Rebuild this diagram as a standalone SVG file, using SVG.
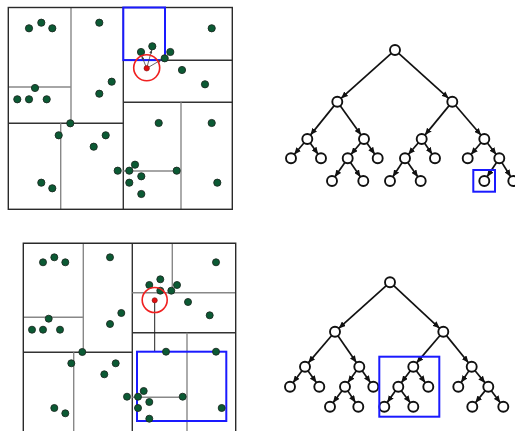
<svg xmlns="http://www.w3.org/2000/svg" width="515" height="431" viewBox="0 0 515 431">
  <style>
    .frame { fill: none; stroke: #2a2a2a; stroke-width: 1.4; }
    .split { stroke: #333; stroke-width: 1.4; fill: none; }
    .split2 { stroke: #888; stroke-width: 1.4; fill: none; }
    .pt { fill: #0b5a34; stroke: #1c2b22; stroke-width: 0.9; }
    .query { fill: #e01010; stroke: #801010; stroke-width: 0.6; }
    .ring { fill: none; stroke: #f02020; stroke-width: 1.6; }
    .sel { fill: none; stroke: #1a1aff; stroke-width: 2; }
    .node { fill: #fff; stroke: #111; stroke-width: 1.9; }
    .edge { stroke: #111; stroke-width: 1.7; fill: none; marker-end: url(#tip); }
    .probe { stroke: #444; stroke-width: 0.8; fill: none; marker-end: url(#tipSmall); }
  </style>
  <defs>
    <marker id="tip" markerUnits="userSpaceOnUse" markerWidth="7" markerHeight="6" refX="7" refY="3" orient="auto">
      <path d="M0,0 L7,3 L0,6 z" fill="#111"/>
    </marker>
    <marker id="tipSmall" markerUnits="userSpaceOnUse" markerWidth="4" markerHeight="3" refX="4" refY="1.5" orient="auto">
      <path d="M0,0 L4,1.5 L0,3 z" fill="#444"/>
    </marker>
  </defs>
  <rect width="515" height="431" fill="#fff"/>

  <!-- upper partition panel -->
  <g id="panel-top">
    <g id="top-splits">
      <line class="split" x1="123.3" y1="7.5" x2="123.3" y2="209.3"/>
      <line class="split" x1="8.3" y1="123.3" x2="123.3" y2="123.3"/>
      <line class="split" x1="123.3" y1="102.3" x2="232.3" y2="102.3"/>
      <line class="split2" x1="71" y1="7.5" x2="71" y2="123.3"/>
      <line class="split" x1="123.3" y1="60.3" x2="232.3" y2="60.3"/>
      <line class="split2" x1="8.3" y1="87" x2="71" y2="87"/>
      <line class="split2" x1="60.7" y1="123.3" x2="60.7" y2="209.3"/>
      <line class="split2" x1="181" y1="102.3" x2="181" y2="209.3"/>
      <line class="split2" x1="123.3" y1="171" x2="176.7" y2="171"/>
      <rect class="frame" x="8.3" y="7.5" width="224" height="201.8"/>
    </g>
    <rect id="top-cell" class="sel" x="123.3" y="7.5" width="41.7" height="52.6"/>
    <g id="top-probes">
      <line class="probe" x1="146.7" y1="68.3" x2="141.6" y2="55.6"/>
      <line class="probe" x1="146.7" y1="68.3" x2="151.8" y2="49.6"/>
      <line class="probe" x1="146.7" y1="68.3" x2="161.6" y2="59.6"/>
    </g>
    <g id="top-points">
      <circle class="pt" cx="29" cy="28.3" r="3.6"/>
      <circle class="pt" cx="41.3" cy="22.7" r="3.6"/>
      <circle class="pt" cx="52.3" cy="28.3" r="3.6"/>
      <circle class="pt" cx="99.3" cy="22.7" r="3.6"/>
      <circle class="pt" cx="211.7" cy="28.3" r="3.6"/>
      <circle class="pt" cx="141" cy="52" r="3.6"/>
      <circle class="pt" cx="152.3" cy="46.3" r="3.6"/>
      <circle class="pt" cx="170.3" cy="52" r="3.6"/>
      <circle class="pt" cx="164.7" cy="58.3" r="3.6"/>
      <circle class="pt" cx="182" cy="70" r="3.6"/>
      <circle class="pt" cx="205" cy="84.3" r="3.6"/>
      <circle class="pt" cx="111.7" cy="81.7" r="3.6"/>
      <circle class="pt" cx="99.3" cy="93.7" r="3.6"/>
      <circle class="pt" cx="35" cy="88" r="3.6"/>
      <circle class="pt" cx="17.3" cy="99.3" r="3.6"/>
      <circle class="pt" cx="29" cy="99.3" r="3.6"/>
      <circle class="pt" cx="46.7" cy="99.3" r="3.6"/>
      <circle class="pt" cx="70.3" cy="123.3" r="3.6"/>
      <circle class="pt" cx="58.7" cy="135.3" r="3.6"/>
      <circle class="pt" cx="105.7" cy="135.3" r="3.6"/>
      <circle class="pt" cx="93.7" cy="146.7" r="3.6"/>
      <circle class="pt" cx="158.7" cy="123" r="3.6"/>
      <circle class="pt" cx="211.7" cy="123" r="3.6"/>
      <circle class="pt" cx="135" cy="164.7" r="3.6"/>
      <circle class="pt" cx="117.7" cy="170.7" r="3.6"/>
      <circle class="pt" cx="129.3" cy="170.7" r="3.6"/>
      <circle class="pt" cx="176.7" cy="170.7" r="3.6"/>
      <circle class="pt" cx="141.3" cy="176.3" r="3.6"/>
      <circle class="pt" cx="129.3" cy="182.7" r="3.6"/>
      <circle class="pt" cx="141.3" cy="194" r="3.6"/>
      <circle class="pt" cx="41.3" cy="182.7" r="3.6"/>
      <circle class="pt" cx="52.3" cy="188.3" r="3.6"/>
      <circle class="pt" cx="217.3" cy="182.7" r="3.6"/>
    </g>
    <circle class="query" cx="146.7" cy="68.3" r="2.7"/>
    <circle class="ring" cx="146.7" cy="67.8" r="13"/>
  </g>

  <!-- lower partition panel -->
  <g id="panel-bottom">
    <g id="bottom-splits">
      <line class="split" x1="132.3" y1="243.3" x2="132.3" y2="431"/>
      <line class="split" x1="23.3" y1="352.3" x2="132.3" y2="352.3"/>
      <line class="split" x1="132.3" y1="332.7" x2="235.7" y2="332.7"/>
      <line class="split2" x1="83.3" y1="243.3" x2="83.3" y2="352.3"/>
      <line class="split2" x1="23.3" y1="317.3" x2="83.3" y2="317.3"/>
      <line class="split2" x1="73.7" y1="352.3" x2="73.7" y2="431"/>
      <line class="split2" x1="172.3" y1="243.3" x2="172.3" y2="292.7"/>
      <line class="split2" x1="132.3" y1="292.7" x2="235.7" y2="292.7"/>
      <line class="split2" x1="187" y1="332.7" x2="187" y2="431"/>
      <line class="split2" x1="132.3" y1="397.3" x2="182.7" y2="397.3"/>
      <path class="frame" d="M23.3,440 V243.3 H235.7 V440"/>
    </g>
    <line id="bottom-probe" x1="154.7" y1="300.3" x2="154.7" y2="352" stroke="#222" stroke-width="1"/>
    <rect id="bottom-cell" class="sel" x="137" y="351.7" width="89.3" height="69.3"/>
    <g id="bottom-points">
      <circle class="pt" cx="43" cy="262.3" r="3.5"/>
      <circle class="pt" cx="54.3" cy="257.3" r="3.5"/>
      <circle class="pt" cx="65.3" cy="262.3" r="3.5"/>
      <circle class="pt" cx="110" cy="257.3" r="3.5"/>
      <circle class="pt" cx="216" cy="262.3" r="3.5"/>
      <circle class="pt" cx="149.3" cy="285" r="3.5"/>
      <circle class="pt" cx="160.3" cy="279.3" r="3.5"/>
      <circle class="pt" cx="177" cy="285" r="3.5"/>
      <circle class="pt" cx="171.3" cy="290.7" r="3.5"/>
      <circle class="pt" cx="160.3" cy="290.7" r="3.5"/>
      <circle class="pt" cx="188" cy="302" r="3.5"/>
      <circle class="pt" cx="209.7" cy="315.3" r="3.5"/>
      <circle class="pt" cx="121.3" cy="313" r="3.5"/>
      <circle class="pt" cx="110" cy="324" r="3.5"/>
      <circle class="pt" cx="48.7" cy="318.7" r="3.5"/>
      <circle class="pt" cx="32" cy="329.7" r="3.5"/>
      <circle class="pt" cx="43" cy="329.7" r="3.5"/>
      <circle class="pt" cx="60" cy="329.7" r="3.5"/>
      <circle class="pt" cx="82.3" cy="352" r="3.5"/>
      <circle class="pt" cx="71.3" cy="363.3" r="3.5"/>
      <circle class="pt" cx="115.7" cy="363.3" r="3.5"/>
      <circle class="pt" cx="104.3" cy="374.3" r="3.5"/>
      <circle class="pt" cx="166" cy="351.7" r="3.5"/>
      <circle class="pt" cx="216" cy="351.7" r="3.5"/>
      <circle class="pt" cx="143.7" cy="391" r="3.5"/>
      <circle class="pt" cx="127" cy="396.7" r="3.5"/>
      <circle class="pt" cx="138" cy="396.7" r="3.5"/>
      <circle class="pt" cx="182.7" cy="396.7" r="3.5"/>
      <circle class="pt" cx="149.3" cy="402" r="3.5"/>
      <circle class="pt" cx="138" cy="408" r="3.5"/>
      <circle class="pt" cx="149.3" cy="418.7" r="3.5"/>
      <circle class="pt" cx="54.3" cy="408" r="3.5"/>
      <circle class="pt" cx="65.3" cy="413.3" r="3.5"/>
      <circle class="pt" cx="221.7" cy="408" r="3.5"/>
    </g>
    <circle class="query" cx="154.7" cy="300.3" r="2.6"/>
    <circle class="ring" cx="154.7" cy="300" r="12.5"/>
  </g>

  <!-- upper tree -->
  <g id="tree-top-edges">
    <line class="edge" x1="391.3" y1="53.3" x2="341" y2="98.4"/>
    <line class="edge" x1="398.7" y1="53.3" x2="448.6" y2="98.3"/>
    <line class="edge" x1="334.2" y1="105.6" x2="310.4" y2="135.1"/>
    <line class="edge" x1="340.2" y1="105.8" x2="361.1" y2="134.9"/>
    <line class="edge" x1="449.1" y1="105.6" x2="424.9" y2="135.1"/>
    <line class="edge" x1="455.6" y1="105.5" x2="481.1" y2="135.2"/>
    <line class="edge" x1="304.1" y1="142.8" x2="294.2" y2="154.5"/>
    <line class="edge" x1="310.2" y1="143.1" x2="318.1" y2="154.2"/>
    <line class="edge" x1="360.8" y1="142.8" x2="350.9" y2="154.5"/>
    <line class="edge" x1="366.9" y1="143.1" x2="374.8" y2="154.2"/>
    <line class="edge" x1="418.4" y1="142.8" x2="408.3" y2="154.5"/>
    <line class="edge" x1="424.5" y1="143.1" x2="432.2" y2="154.2"/>
    <line class="edge" x1="481" y1="142.8" x2="471" y2="154.5"/>
    <line class="edge" x1="487.4" y1="143" x2="496.2" y2="154.4"/>
    <line class="edge" x1="344.9" y1="162.4" x2="334.8" y2="176.9"/>
    <line class="edge" x1="350.5" y1="162.4" x2="360.5" y2="176.9"/>
    <line class="edge" x1="402.2" y1="162.5" x2="392.8" y2="176.8"/>
    <line class="edge" x1="407.8" y1="162.4" x2="417.9" y2="176.9"/>
    <line class="edge" x1="496.5" y1="162.5" x2="487.1" y2="176.8"/>
    <line class="edge" x1="501.9" y1="162.6" x2="510.7" y2="176.7"/>
  </g>
  <g id="tree-top-nodes">
    <circle id="t-root" class="node" cx="395" cy="50" r="5"/>
    <circle id="t-l" class="node" cx="337.3" cy="101.7" r="5"/>
    <circle id="t-r" class="node" cx="452.3" cy="101.7" r="5"/>
    <circle id="t-ll" class="node" cx="307.3" cy="139" r="5"/>
    <circle id="t-lr" class="node" cx="364" cy="139" r="5"/>
    <circle id="t-rl" class="node" cx="421.7" cy="139" r="5"/>
    <circle id="t-rr" class="node" cx="484.3" cy="139" r="5"/>
    <circle id="t-lll" class="node" cx="291" cy="158.3" r="5"/>
    <circle id="t-llr" class="node" cx="321" cy="158.3" r="5"/>
    <circle id="t-lrl" class="node" cx="347.7" cy="158.3" r="5"/>
    <circle id="t-lrr" class="node" cx="377.7" cy="158.3" r="5"/>
    <circle id="t-rll" class="node" cx="405" cy="158.3" r="5"/>
    <circle id="t-rlr" class="node" cx="435" cy="158.3" r="5"/>
    <circle id="t-rrl" class="node" cx="467.7" cy="158.3" r="5"/>
    <circle id="t-rrr" class="node" cx="499.3" cy="158.3" r="5"/>
    <circle id="t-lrll" class="node" cx="332" cy="181" r="5"/>
    <circle id="t-lrlr" class="node" cx="363.3" cy="181" r="5"/>
    <circle id="t-rlll" class="node" cx="390" cy="181" r="5"/>
    <circle id="t-rllr" class="node" cx="420.7" cy="181" r="5"/>
    <circle id="t-rrrl" class="node" cx="484.3" cy="181" r="5"/>
    <circle id="t-rrrr" class="node" cx="513.3" cy="181" r="5"/>
  </g>
  <rect id="tree-top-cell" class="sel" x="473.3" y="170" width="21.7" height="21.7"/>

  <!-- lower tree -->
  <g id="tree-bottom-edges">
    <line class="edge" x1="386.3" y1="285.6" x2="338.7" y2="328.4"/>
    <line class="edge" x1="393.7" y1="285.7" x2="439.6" y2="328.3"/>
    <line class="edge" x1="331.7" y1="335.5" x2="308.3" y2="362.9"/>
    <line class="edge" x1="337.9" y1="335.8" x2="356.4" y2="362.6"/>
    <line class="edge" x1="440" y1="335.5" x2="416.6" y2="362.9"/>
    <line class="edge" x1="446.5" y1="335.6" x2="468.5" y2="362.8"/>
    <line class="edge" x1="302" y1="370.7" x2="293" y2="382.7"/>
    <line class="edge" x1="307.9" y1="370.8" x2="316.4" y2="382.6"/>
    <line class="edge" x1="356.4" y1="370.8" x2="347.9" y2="382.6"/>
    <line class="edge" x1="362.2" y1="370.8" x2="370.4" y2="382.6"/>
    <line class="edge" x1="410.3" y1="370.7" x2="401.3" y2="382.7"/>
    <line class="edge" x1="416.3" y1="370.7" x2="425.3" y2="382.7"/>
    <line class="edge" x1="468.9" y1="370.9" x2="461.1" y2="382.5"/>
    <line class="edge" x1="474.9" y1="370.5" x2="485.1" y2="382.9"/>
    <line class="edge" x1="342" y1="390.7" x2="333" y2="402.7"/>
    <line class="edge" x1="347.8" y1="390.9" x2="355.5" y2="402.5"/>
    <line class="edge" x1="395.4" y1="390.8" x2="387.2" y2="402.6"/>
    <line class="edge" x1="401.3" y1="390.7" x2="410.3" y2="402.7"/>
    <line class="edge" x1="485.2" y1="390.6" x2="475.4" y2="402.8"/>
    <line class="edge" x1="491.3" y1="390.7" x2="500.3" y2="402.7"/>
  </g>
  <g id="tree-bottom-nodes">
    <circle id="b-root" class="node" cx="390" cy="282.3" r="5"/>
    <circle id="b-l" class="node" cx="335" cy="331.7" r="5"/>
    <circle id="b-r" class="node" cx="443.3" cy="331.7" r="5"/>
    <circle id="b-ll" class="node" cx="305" cy="366.7" r="5"/>
    <circle id="b-lr" class="node" cx="359.3" cy="366.7" r="5"/>
    <circle id="b-rl" class="node" cx="413.3" cy="366.7" r="5"/>
    <circle id="b-rr" class="node" cx="471.7" cy="366.7" r="5"/>
    <circle id="b-lll" class="node" cx="290" cy="386.7" r="5"/>
    <circle id="b-llr" class="node" cx="319.3" cy="386.7" r="5"/>
    <circle id="b-lrl" class="node" cx="345" cy="386.7" r="5"/>
    <circle id="b-lrr" class="node" cx="373.3" cy="386.7" r="5"/>
    <circle id="b-rll" class="node" cx="398.3" cy="386.7" r="5"/>
    <circle id="b-rlr" class="node" cx="428.3" cy="386.7" r="5"/>
    <circle id="b-rrl" class="node" cx="458.3" cy="386.7" r="5"/>
    <circle id="b-rrr" class="node" cx="488.3" cy="386.7" r="5"/>
    <circle id="b-lrll" class="node" cx="330" cy="406.7" r="5"/>
    <circle id="b-lrlr" class="node" cx="358.3" cy="406.7" r="5"/>
    <circle id="b-rlll" class="node" cx="384.3" cy="406.7" r="5"/>
    <circle id="b-rllr" class="node" cx="413.3" cy="406.7" r="5"/>
    <circle id="b-rrrl" class="node" cx="472.3" cy="406.7" r="5"/>
    <circle id="b-rrrr" class="node" cx="503.3" cy="406.7" r="5"/>
  </g>
  <rect id="tree-bottom-cell" class="sel" x="379.3" y="356.7" width="60" height="60"/>
</svg>
